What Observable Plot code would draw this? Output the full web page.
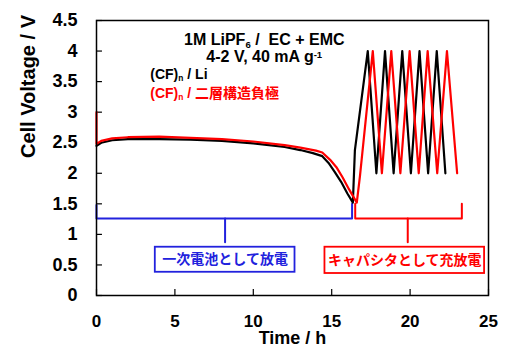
<!DOCTYPE html>
<html><head><meta charset="utf-8">
<script src="https://cdn.jsdelivr.net/npm/d3@7"></script>
<script src="https://cdn.jsdelivr.net/npm/@observablehq/plot@0.6"></script>
<style>body{margin:0;background:#fff}</style>
</head><body><div id="chart"></div>
<script>
const xTicks = [0, 5, 10, 15, 20, 25];
const yTicks = [0, 0.5, 1, 1.5, 2, 2.5, 3, 3.5, 4, 4.5];

// (CF)n / Li  (black)
const blackT = [0, 0.3, 1, 2, 4, 6, 8, 10, 11, 12, 13, 13.8, 14.4, 14.8, 15.2, 15.6, 16.0, 16.35, 16.48, 17.3, 17.85, 18.4, 18.95, 19.5, 20.05, 20.6, 21.15, 21.7, 22.25];
const blackV = [2.45, 2.5, 2.54, 2.56, 2.56, 2.55, 2.53, 2.49, 2.46, 2.43, 2.38, 2.33, 2.28, 2.17, 2.02, 1.86, 1.67, 1.52, 2.38, 4.0, 2.0, 4.0, 2.0, 4.0, 2.0, 4.0, 2.0, 4.0, 2.0];

// (CF)n / 二層構造負極 (red)
const redT = [0, 0, 0.3, 1, 2, 4, 6, 8, 10, 12, 13, 14, 14.4, 14.9, 15.3, 15.7, 16.1, 16.6, 16.8, 17.62, 18.2, 18.8, 19.38, 19.97, 20.55, 21.12, 21.73, 22.35, 23.0];
const redV = [3.0, 2.48, 2.53, 2.57, 2.59, 2.6, 2.58, 2.56, 2.52, 2.46, 2.42, 2.37, 2.34, 2.22, 2.1, 1.93, 1.74, 1.52, 1.95, 4.0, 2.0, 4.0, 2.0, 4.0, 2.0, 4.0, 2.0, 4.0, 2.0];

// brackets (data units)
const blueBracketT = [0, 0, 16.3, 16.3];
const blueBracketV = [1.48, 1.26, 1.26, 1.5];
const blueStemT = [8.2, 8.2];
const blueStemV = [1.26, 0.87];
const redBracketT = [16.5, 16.5, 23.3, 23.3];
const redBracketV = [1.5, 1.26, 1.26, 1.5];
const redStemT = [19.85, 19.85];
const redStemV = [1.26, 0.87];

// label boxes
const boxLabels = ["一次電池として放電", "キャパシタとして充放電"];
const boxX1 = [3.75, 14.57];
const boxX2 = [12.66, 24.75];
const boxY1 = [0.38, 0.36];
const boxY2 = [0.79, 0.79];
const boxColors = ["#2222dd", "#ff0000"];

const toPts = (T, V) => T.map((t, i) => ({t, v: V[i]}));
const boxes = boxLabels.map((label, i) => ({label, x1: boxX1[i], x2: boxX2[i], y1: boxY1[i], y2: boxY2[i], c: boxColors[i]}));

const font = "Liberation Sans, Arial, sans-serif";
const cjk = "Liberation Sans, Noto Sans CJK JP, sans-serif";

const plot = Plot.plot({
  width: 507, height: 354,
  marginLeft: 96, marginRight: 19, marginTop: 20, marginBottom: 59,
  style: {fontFamily: font, background: "#fff"},
  x: {domain: [0, 25]},
  y: {domain: [0, 4.5]},
  marks: [
    Plot.axisY({ticks: yTicks, tickSize: 0, tickPadding: 19, tickFormat: d => String(d), fontSize: 18, fontWeight: "bold", label: null}),
    Plot.axisX({ticks: xTicks, tickSize: 0, tickPadding: 19, tickFormat: d => String(d), fontSize: 17, fontWeight: "bold", label: null}),
    Plot.ruleY(yTicks, {y: d => d, x1: 0, x2: 0.38, stroke: "black", strokeWidth: 1.2}),
    Plot.ruleX(xTicks, {x: d => d, y1: 0, y2: 0.1, stroke: "black", strokeWidth: 1.2}),
    Plot.line(toPts(blueBracketT, blueBracketV), {x: "t", y: "v", stroke: "#2222dd", strokeWidth: 2}),
    Plot.line(toPts(blueStemT, blueStemV), {x: "t", y: "v", stroke: "#2222dd", strokeWidth: 2}),
    Plot.line(toPts(redBracketT, redBracketV), {x: "t", y: "v", stroke: "#ff0000", strokeWidth: 2}),
    Plot.line(toPts(redStemT, redStemV), {x: "t", y: "v", stroke: "#ff0000", strokeWidth: 2}),
    Plot.line(toPts(blackT, blackV), {x: "t", y: "v", stroke: "black", strokeWidth: 2.2}),
    Plot.line(toPts(redT, redV), {x: "t", y: "v", stroke: "#ff0000", strokeWidth: 2.2}),
    Plot.rect(boxes, {x1: "x1", x2: "x2", y1: "y1", y2: "y2", fill: "white", stroke: "c", strokeWidth: 1.8}),
    Plot.text(boxes, {x: d => (d.x1 + d.x2) / 2, y: d => (d.y1 + d.y2) / 2, text: "label", fill: "c", fontSize: 14, fontWeight: "bold", fontFamily: cjk}),
    Plot.text(["1M LiPF_6 /  EC + EMC"], {x: 10.7, y: 4.19, text: d => d, fontSize: 16, fontWeight: "bold", fill: "black"}),
    Plot.text(["4-2 V, 40 mA g^-1"], {x: 10.7, y: 3.91, text: d => d, fontSize: 16, fontWeight: "bold", fill: "black"}),
    Plot.text(["(CF)_n / Li"], {x: 3.43, y: 3.61, text: d => d, textAnchor: "start", fontSize: 14, fontWeight: "bold", fill: "black"}),
    Plot.text(["(CF)_n / 二層構造負極"], {x: 3.43, y: 3.3, text: d => d, textAnchor: "start", fontSize: 14, fontWeight: "bold", fill: "#ff0000", fontFamily: cjk}),
    Plot.text(["Time / h"], {frameAnchor: "bottom", dy: 48, text: d => d, fontSize: 18, fontWeight: "bold", fill: "black"}),
    Plot.text(["Cell Voltage / V"], {frameAnchor: "left", dx: -68, rotate: -90, text: d => d, fontSize: 20, fontWeight: "bold", fill: "black"}),
    Plot.frame({stroke: "black", strokeWidth: 1.5})
  ]
});

// turn _x / ^x markers into sub/superscripts
d3.select(plot).selectAll("text").each(function() {
  const s = this.textContent;
  if (!/[_^]/.test(s)) return;
  const parts = s.split(/([_^](?:-?\w+))/).filter(p => p !== "");
  const el = d3.select(this);
  el.text(null);
  for (const p of parts) {
    if (p[0] === "_") {
      el.append("tspan").attr("font-size", "0.6em").attr("baseline-shift", "-25%").text(p.slice(1));
    } else if (p[0] === "^") {
      el.append("tspan").attr("font-size", "0.6em").attr("baseline-shift", "40%").text(p.slice(1));
    } else {
      el.append("tspan").text(p);
    }
  }
});

document.getElementById("chart").appendChild(plot);
</script>
</body></html>
